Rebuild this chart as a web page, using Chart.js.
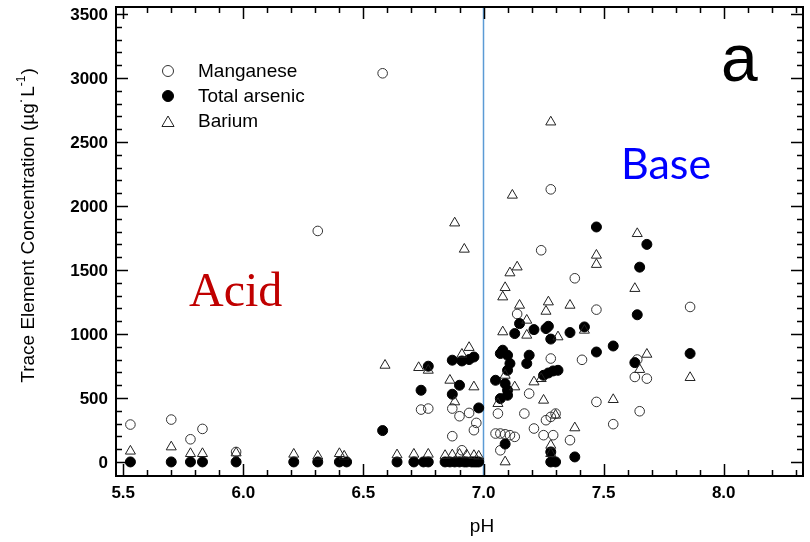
<!DOCTYPE html>
<html>
<head>
<meta charset="utf-8">
<script src="https://cdn.jsdelivr.net/npm/chart.js@4.4.1/dist/chart.umd.min.js"></script>
<style>
  html, body { margin: 0; padding: 0; background: #fff; }
  #wrap { width: 810px; height: 542px; }
</style>
</head>
<body>
<div id="wrap"><canvas id="myChart" width="810" height="542"></canvas></div>
<script>
// pH, concentration (µg/L)
const manganese = [
  [5.53, 292], [5.70, 331], [5.78, 177], [5.83, 258], [5.97, 78],
  [6.31, 1805], [6.58, 3037],
  [6.74, 409], [6.77, 417],
  [6.87, 417], [6.90, 357], [6.94, 383], [6.97, 305], [6.96, 248], [6.87, 201], [6.91, 91],
  [7.14, 1156], [7.28, 2130], [7.24, 1654], [7.38, 1435], [7.47, 1190], [7.86, 1211],
  [7.06, 378], [7.17, 378], [7.19, 534], [7.28, 808], [7.41, 798],
  [7.26, 326], [7.28, 352], [7.30, 378], [7.21, 261], [7.25, 209], [7.29, 209], [7.36, 170],
  [7.05, 222], [7.07, 222], [7.09, 216], [7.11, 209], [7.13, 196], [7.07, 91],
  [7.47, 469], [7.65, 396], [7.54, 295], [7.63, 664], [7.68, 651], [7.64, 800]
];

const arsenic = [
  [5.53, 0], [5.70, 0], [5.78, 0], [5.83, 0], [5.97, 0], [6.21, 0], [6.31, 0], [6.40, 0], [6.43, 0],
  [6.58, 245], [6.64, 0], [6.71, 0], [6.75, 0], [6.77, 0],
  [6.74, 560], [6.77, 748],
  [6.84, 0], [6.86, 0], [6.88, 0], [6.90, 0], [6.92, 0], [6.93, 0], [6.95, 0], [6.96, 0], [6.97, 0], [6.98, 0],
  [6.87, 795], [6.91, 789], [6.94, 800], [6.96, 820], [6.90, 599], [6.87, 529], [6.98, 422],
  [7.08, 873], [7.07, 847], [7.10, 834], [7.11, 769], [7.10, 716], [7.19, 834], [7.18, 769],
  [7.15, 1081], [7.13, 1003], [7.21, 1034], [7.26, 1042], [7.27, 1060], [7.28, 960], [7.36, 1011],
  [7.05, 638], [7.09, 612], [7.10, 560], [7.10, 521], [7.07, 495],
  [7.25, 677], [7.27, 695], [7.29, 711], [7.31, 716],
  [7.09, 140], [7.28, 78], [7.28, 0], [7.30, 0], [7.38, 39],
  [7.47, 1836], [7.68, 1700], [7.65, 1522], [7.64, 1150], [7.42, 1055], [7.54, 906], [7.47, 859], [7.86, 847], [7.63, 776]
];

const barium = [
  [5.53, 84], [5.70, 117], [5.78, 65], [5.83, 65], [5.97, 70], [6.21, 60], [6.31, 45], [6.40, 65], [6.42, 45],
  [6.64, 55], [6.71, 60], [6.77, 60],
  [6.84, 50], [6.87, 55], [6.90, 60], [6.93, 55], [6.96, 50], [6.98, 45],
  [6.59, 755], [6.73, 737], [6.77, 716], [6.88, 1867], [6.92, 1662],
  [6.91, 841], [6.94, 894], [6.86, 638], [6.96, 586], [6.88, 469],
  [7.28, 2656], [7.12, 2084], [7.47, 1615], [7.47, 1543], [7.14, 1523], [7.11, 1477], [7.09, 1362], [7.08, 1289],
  [7.27, 1250], [7.26, 1177], [7.15, 1224], [7.36, 1224],
  [7.64, 1784], [7.63, 1355],
  [7.18, 1107], [7.08, 1016], [7.18, 990], [7.31, 977], [7.42, 1029],
  [7.09, 677], [7.13, 586], [7.06, 456], [7.21, 625], [7.24, 651], [7.25, 482],
  [7.30, 365], [7.09, 0], [7.28, 130], [7.28, 65], [7.38, 266],
  [7.68, 841], [7.65, 722], [7.86, 659], [7.54, 487]
];

const seriesNames = ['Manganese', 'Total arsenic', 'Barium'];
const xTickLabels = ['5.5', '6.0', '6.5', '7.0', '7.5', '8.0'];
const yTickLabels = ['0', '500', '1000', '1500', '2000', '2500', '3000', '3500'];
const neutralPH = 7.0;

const FONT = "'Liberation Sans', Arial, sans-serif";

function toPoints(arr) {
  return arr.map(p => ({ x: p[0], y: p[1] }));
}

// ticks inward on all four sides, frame, titles, legend, labels
const decorPlugin = {
  id: 'decor',
  beforeDatasetsDraw(chart) {
    const { ctx, chartArea: a, scales: { x } } = chart;
    ctx.save();
    // pH 7 divider
    const px = Math.round(x.getPixelForValue(neutralPH)) - 0.5;
    ctx.strokeStyle = '#5B9BD5';
    ctx.lineWidth = 1.5;
    ctx.beginPath();
    ctx.moveTo(px, a.top);
    ctx.lineTo(px, a.bottom);
    ctx.stroke();

    // area labels
    ctx.textBaseline = 'alphabetic';
    ctx.textAlign = 'left';
    ctx.fillStyle = '#C00000';
    ctx.font = "48px 'Liberation Serif', 'Times New Roman', serif";
    ctx.fillText('Acid', 189, 306);
    ctx.fillStyle = '#0000FF';
    ctx.font = "43px Lato, 'Noto Sans', sans-serif";
    ctx.fillText('Base', 621, 179);
    ctx.fillStyle = '#000';
    ctx.font = '66px ' + FONT;
    ctx.fillText('a', 721, 81);
    ctx.restore();
  },
  afterDatasetsDraw(chart) {
    const { ctx, chartArea: a, scales: { x, y } } = chart;
    ctx.save();
    ctx.strokeStyle = '#000';
    ctx.lineWidth = 1.5;

    // minor + major ticks
    ctx.beginPath();
    for (let v = 5.5; v <= x.max + 1e-9; v += 0.1) {
      const val = Math.round(v * 10) / 10;
      const major = Math.abs(val * 2 - Math.round(val * 2)) < 1e-6;
      const len = major ? 12 : 6;
      const p = Math.round(x.getPixelForValue(val)) + 0.5;
      ctx.moveTo(p, a.bottom); ctx.lineTo(p, a.bottom - len);
      ctx.moveTo(p, a.top); ctx.lineTo(p, a.top + len);
    }
    for (let v = 0; v <= y.max; v += 100) {
      const major = v % 500 === 0;
      const len = major ? 12 : 6;
      const p = Math.round(y.getPixelForValue(v)) + 0.5;
      ctx.moveTo(a.left, p); ctx.lineTo(a.left + len, p);
      ctx.moveTo(a.right, p); ctx.lineTo(a.right - len, p);
    }
    ctx.stroke();

    // frame
    ctx.lineWidth = 2;
    ctx.strokeRect(a.left, a.top, a.right - a.left, a.bottom - a.top);

    // y tick labels
    ctx.fillStyle = '#000';
    ctx.font = 'bold 17px ' + FONT;
    ctx.textAlign = 'right';
    ctx.textBaseline = 'middle';
    yTickLabels.forEach(lbl => {
      ctx.fillText(lbl, a.left - 8, y.getPixelForValue(Number(lbl)) + 1);
    });

    // legend
    const lx = 168, ly = 71, gap = 25;
    ctx.font = '19px ' + FONT;
    ctx.textBaseline = 'middle';
    ctx.textAlign = 'left';
    chart.data.datasets.forEach((ds, i) => {
      const cy = ly + i * gap;
      const tri = ds.pointStyle === 'triangle';
      ctx.fillStyle = ds.pointBackgroundColor;
      ctx.strokeStyle = ds.pointBorderColor;
      ctx.lineWidth = 1;
      Chart.helpers.drawPoint(ctx, {
        pointStyle: ds.pointStyle, radius: tri ? 7 : 5.5, borderWidth: 1, rotation: 0
      }, lx, tri ? cy + 2 : cy);
      ctx.fillStyle = '#000';
      ctx.fillText(ds.label, 198, cy + 1);
    });

    // axis titles
    ctx.fillStyle = '#000';
    ctx.font = '19px ' + FONT;
    ctx.textAlign = 'center';
    ctx.textBaseline = 'middle';
    ctx.fillText('pH', 482, 527);

    ctx.translate(29, 226);
    ctx.rotate(-Math.PI / 2);
    const t1 = 'Trace Element Concentration (\u00B5g\u02D9L';
    const t2 = '-1';
    const t3 = ')';
    ctx.font = '19px ' + FONT;
    const w1 = ctx.measureText(t1).width;
    const w3 = ctx.measureText(t3).width;
    ctx.font = '12px ' + FONT;
    const w2 = ctx.measureText(t2).width;
    const sx = -(w1 + w2 + w3) / 2;
    ctx.textAlign = 'left';
    ctx.font = '19px ' + FONT;
    ctx.fillText(t1, sx, 0);
    ctx.font = '12px ' + FONT;
    ctx.fillText(t2, sx + w1, -7);
    ctx.font = '19px ' + FONT;
    ctx.fillText(t3, sx + w1 + w2 + 1, 0);
    ctx.restore();
  }
};

const ctx = document.getElementById('myChart').getContext('2d');
new Chart(ctx, {
  type: 'scatter',
  data: {
    datasets: [
      {
        label: seriesNames[0],
        data: toPoints(manganese),
        pointStyle: 'circle',
        pointRadius: 4.8,
        pointBorderWidth: 1,
        pointBorderColor: '#333',
        pointBackgroundColor: 'rgba(255,255,255,0)',
        order: 2
      },
      {
        label: seriesNames[1],
        data: toPoints(arsenic),
        pointStyle: 'circle',
        pointRadius: 5,
        pointBorderWidth: 1,
        pointBorderColor: '#000',
        pointBackgroundColor: '#000',
        order: 1
      },
      {
        label: seriesNames[2],
        data: toPoints(barium),
        pointStyle: 'triangle',
        pointRadius: 5.8,
        pointBorderWidth: 1,
        pointBorderColor: '#222',
        pointBackgroundColor: 'rgba(255,255,255,0)',
        order: 0
      }
    ]
  },
  options: {
    responsive: false,
    animation: false,
    devicePixelRatio: 1,
    layout: { padding: { top: 7, right: 7, left: 0, bottom: 0 } },
    plugins: {
      legend: { display: false },
      tooltip: { enabled: false }
    },
    scales: {
      x: {
        type: 'linear',
        min: 5.47,
        max: 8.33,
        afterBuildTicks: (s) => { s.ticks = xTickLabels.map(v => ({ value: Number(v) })); },
        ticks: {
          autoSkip: false,
          maxRotation: 0,
          color: '#000',
          padding: 7,
          font: { family: FONT, size: 17, weight: 'bold' },
          callback: (v) => Number(v).toFixed(1)
        },
        grid: { display: false, drawTicks: false },
        border: { display: false },
        afterFit: (s) => { s.height = 66; s.paddingLeft = 0; s.paddingRight = 0; }
      },
      y: {
        type: 'linear',
        min: -110,
        max: 3555,
        ticks: { display: false },
        grid: { display: false, drawTicks: false },
        border: { display: false },
        afterFit: (s) => { s.width = 116; s.paddingTop = 0; s.paddingBottom = 0; }
      }
    }
  },
  plugins: [decorPlugin]
});
</script>
</body>
</html>
